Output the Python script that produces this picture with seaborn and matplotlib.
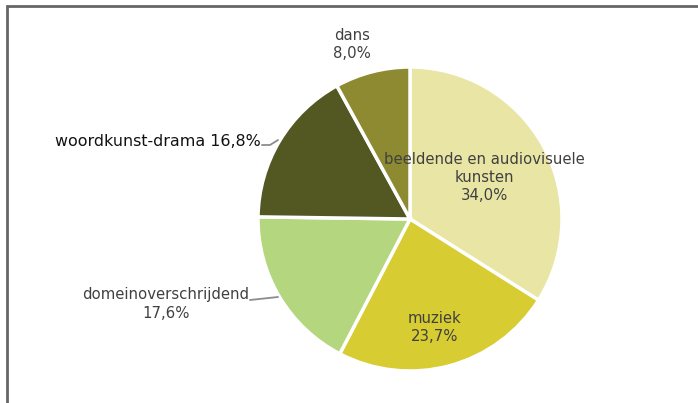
import numpy as np
import matplotlib
matplotlib.use("Agg")
import matplotlib.pyplot as plt
import seaborn as sns

# share per artistic domain (percent), clockwise from 12 o'clock
domains = ["beeldende en audiovisuele\nkunsten", "muziek", "domeinoverschrijdend",
           "woordkunst-drama", "dans"]
shares = [34.0, 23.7, 17.6, 16.8, 8.0]
pct_labels = ["34,0%", "23,7%", "17,6%", "16,8%", "8,0%"]
colors = ["#E9E5A5", "#D7CC31", "#B4D67E", "#535823", "#8D8A31"]

sns.set_theme(style="white")
plt.rcParams['font.family'] = ['DejaVu Sans']

W, H = 698, 403
fig = plt.figure(figsize=(W / 100, H / 100), dpi=100)
ax = fig.add_axes([0, 0, 1, 1])

cx, cy, r = 410, H - 219, 152
wedges, _ = ax.pie(shares, colors=sns.color_palette(colors), startangle=90,
                   counterclock=False, center=(cx, cy), radius=r,
                   wedgeprops=dict(edgecolor="white", linewidth=2.5))
ax.set_xlim(0, W)
ax.set_ylim(0, H)
ax.set_aspect("auto")
ax.axis("off")

txt = "#404040"
fs = 10.7

# labels inside the two biggest slices
def inner(w, frac):
    a = np.deg2rad((w.theta1 + w.theta2) / 2)
    return cx + frac * r * np.cos(a), cy + frac * r * np.sin(a)

x, y = inner(wedges[0], 0.56)
ax.text(x, y, domains[0] + "\n" + pct_labels[0], ha="center", va="center",
        fontsize=fs, color=txt, linespacing=1.25)
x, y = inner(wedges[1], 0.72)
ax.text(x - 4, y - 3, domains[1] + "\n" + pct_labels[1], ha="center", va="center",
        fontsize=fs, color=txt, linespacing=1.25)

# outside labels
ax.text(352, H - 44, domains[4] + "\n" + pct_labels[4], ha="center", va="center",
        fontsize=fs, color=txt, linespacing=1.25)
ax.text(261, H - 142, domains[3] + " " + pct_labels[3], ha="right", va="center",
        fontsize=fs + 0.7, color="#111111")
ax.text(166, H - 304, domains[2] + "\n" + pct_labels[2], ha="center", va="center",
        fontsize=fs, color=txt, linespacing=1.25)

# leader lines
ax.plot([262, 270, 278], [H - 145, H - 145, H - 140], color="#8c8c8c", lw=1.3)
ax.plot([250, 278], [H - 300, H - 297], color="#8c8c8c", lw=1.3)

# chart frame (cut off at the right and bottom)
ax.plot([6.5, 6.5, W + 5], [-5, H - 6, H - 6], color="#666666", lw=2,
        solid_joinstyle="miter", clip_on=False)

fig.savefig("out.png", dpi=100)
